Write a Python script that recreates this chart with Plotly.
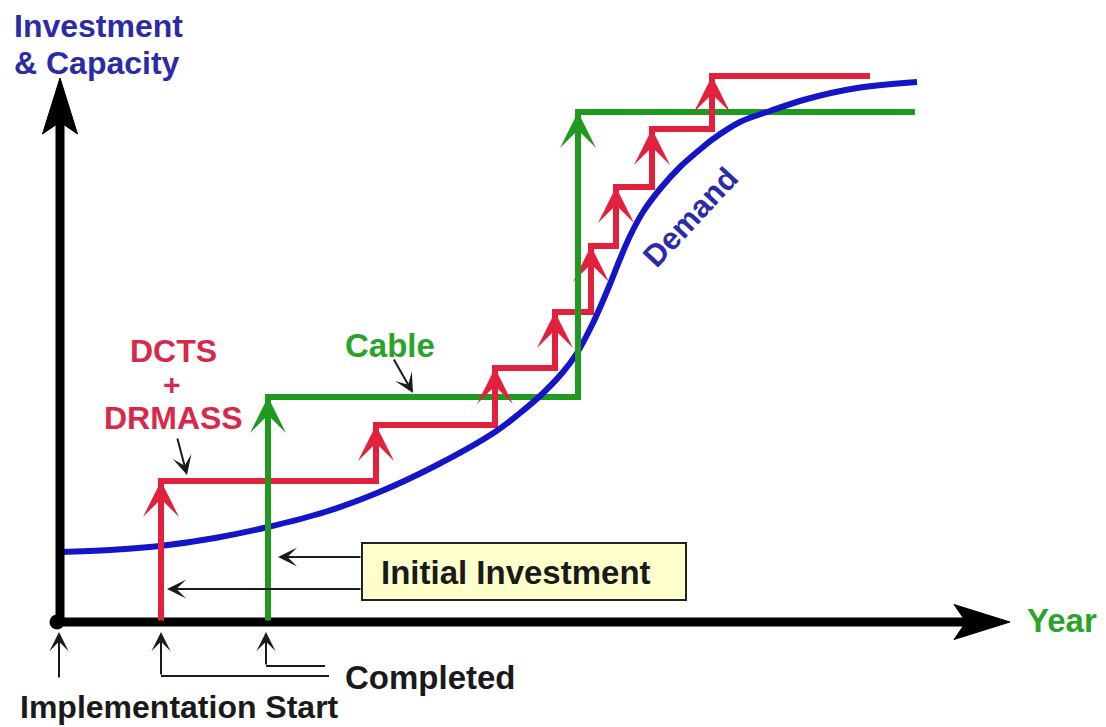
import plotly.graph_objects as go

# ---------------- data (x: time from implementation start, y: investment / capacity) -------------
demand_x = [0, 5, 10, 15.5, 20.8, 26.5, 31.7, 37.5, 43.5, 46, 48, 50.3, 51.7, 53.2, 54.2, 55,
            56, 57, 58.3, 60, 62, 64.3, 65.3, 68, 71, 74.7, 79.7, 85.7]
demand_y = [7.0, 7.2, 7.6, 8.4, 9.5, 11.0, 12.9, 15.6, 19.0, 20.9, 22.6, 25.0, 26.9, 29.7, 31.9, 33.8,
            36.3, 38.6, 41.0, 43.3, 45.5, 47.5, 48.3, 50.0, 51.1, 52.3, 53.4, 54.0]

dcts_step_x = [10.1, 31.6, 43.5, 49.5, 53.1, 55.6, 59.2, 65.2]
dcts_step_y = [14.1, 19.7, 25.4, 31.0, 37.6, 43.5, 49.3, 54.6]
dcts_end_x = 81.0

cable_step_x = [20.8, 51.8]
cable_step_y = [22.5, 51.0]
cable_end_x = 85.5

x_axis_end = 95.0     # tip of the Year arrow
y_axis_end = 54.4     # tip of the Investment arrow
implementation_start = 0.0

# ---------------- styles ----------------
RED = "#E2213F"
RED_TXT = "#D8294B"
GREEN = "#1F9A1F"
GREEN_TXT = "#2AA32A"
BLUE = "#1414C8"
BLUE_TXT = "#2B2BA8"
DARK = "#1a1a1a"
FONT = "Liberation Sans, Arial, sans-serif"

fig = go.Figure()


def step_path(step_x, step_y, end_x):
    xs = [step_x[0]] + list(step_x) + [end_x]
    ys = [0] + list(step_y) + [step_y[-1]]
    return xs, ys


# DCTS + DRMASS steps
rx, ry = step_path(dcts_step_x, dcts_step_y, dcts_end_x)
fig.add_trace(go.Scatter(x=rx, y=ry, mode="lines", line=dict(color=RED, width=6, shape="hv"),
                         hoverinfo="skip"))
# Cable steps
gx, gy = step_path(cable_step_x, cable_step_y, cable_end_x)
fig.add_trace(go.Scatter(x=gx, y=gy, mode="lines", line=dict(color=GREEN, width=6, shape="hv"),
                         hoverinfo="skip"))
# Demand
fig.add_trace(go.Scatter(x=demand_x, y=demand_y, mode="lines",
                         line=dict(color=BLUE, width=6, shape="spline", smoothing=1.0),
                         hoverinfo="skip"))

# Axes (thick black lines + heads)
HEAD_LEN = 5.6
HEAD_HALF = 1.75
NOTCH = 1.2
fig.add_trace(go.Scatter(x=[0, x_axis_end - HEAD_LEN + NOTCH], y=[0, 0], mode="lines",
                         line=dict(color="black", width=9), hoverinfo="skip"))
fig.add_trace(go.Scatter(x=[0, 0], y=[0, y_axis_end - HEAD_LEN + NOTCH], mode="lines",
                         line=dict(color="black", width=9), hoverinfo="skip"))
fig.add_trace(go.Scatter(
    x=[x_axis_end, x_axis_end - HEAD_LEN, x_axis_end - HEAD_LEN + NOTCH, x_axis_end - HEAD_LEN, x_axis_end],
    y=[0, HEAD_HALF, 0, -HEAD_HALF, 0], mode="lines", fill="toself", fillcolor="black",
    line=dict(color="black", width=1), hoverinfo="skip"))
fig.add_trace(go.Scatter(
    x=[0, HEAD_HALF, 0, -HEAD_HALF, 0],
    y=[y_axis_end, y_axis_end - HEAD_LEN, y_axis_end - HEAD_LEN + NOTCH, y_axis_end - HEAD_LEN, y_axis_end],
    mode="lines", fill="toself", fillcolor="black",
    line=dict(color="black", width=1), hoverinfo="skip"))
fig.add_trace(go.Scatter(x=[implementation_start - 0.3], y=[0], mode="markers",
                         marker=dict(color="black", size=15), hoverinfo="skip"))

# bent leader lines for "Completed"
for lx, ly in ([[26.9, dcts_step_x[0]], [-5.4, -5.4]], [[26.5, cable_step_x[0] - 0.2], [-4.4, -4.4]]):
    fig.add_trace(go.Scatter(x=lx, y=ly, mode="lines", line=dict(color=DARK, width=2),
                             hoverinfo="skip"))

annotations = []


def arrow(x, y, ax, ay, color, width, size):
    annotations.append(dict(x=x, y=y, ax=ax, ay=ay, xref="x", yref="y", axref="x", ayref="y",
                            text="", showarrow=True, arrowhead=3, arrowsize=size,
                            arrowwidth=width, arrowcolor=color, standoff=0, startstandoff=0))


prev = 0
for sx, sy in zip(dcts_step_x, dcts_step_y):
    arrow(sx, sy, sx, prev, RED, 6, 1.0)
    prev = sy
prev = 0
for sx, sy in zip(cable_step_x, cable_step_y):
    arrow(sx, sy, sx, prev, GREEN, 6, 1.0)
    prev = sy

# thin black pointers
arrow(35.3, 22.9, 33.3, 26.4, DARK, 2, 1.6)        # Cable
arrow(12.7, 14.7, 11.7, 18.5, DARK, 2, 1.6)        # DRMASS
arrow(21.8, 6.5, 30.2, 6.5, DARK, 2, 1.6)          # Initial investment (cable)
arrow(10.7, 3.3, 30.2, 3.3, DARK, 2, 1.6)          # Initial investment (DCTS)
arrow(implementation_start - 0.1, -1.0, implementation_start - 0.1, -5.7, DARK, 2, 1.6)
arrow(dcts_step_x[0], -1.0, dcts_step_x[0], -5.4, DARK, 2, 1.6)
arrow(cable_step_x[0] - 0.2, -1.0, cable_step_x[0] - 0.2, -4.4, DARK, 2, 1.6)


def label(text, x, y, color, size=33, xanchor="center", angle=0):
    annotations.append(dict(x=x, y=y, xref="x", yref="y", text=text, showarrow=False,
                            xanchor=xanchor, yanchor="middle", textangle=angle,
                            font=dict(family=FONT, size=size, color=color, weight="bold")))


label("Investment", -4.8, 59.6, BLUE_TXT, size=32, xanchor="left")
label("&amp; Capacity", -4.8, 55.9, BLUE_TXT, size=32, xanchor="left")
label("Year", 96.5, 0.2, GREEN_TXT, xanchor="left")
label("Cable", 33.0, 27.7, GREEN_TXT)
label("DCTS", 11.3, 27.1, RED_TXT, size=32)
label("+", 11.2, 23.8, RED_TXT, size=30)
label("DRMASS", 11.3, 20.4, RED_TXT, size=32)
label("Demand", 63.0, 40.5, BLUE_TXT, size=31, angle=-47)
label("Initial Investment", 45.6, 5.0, "#1a1a1a")
label("Completed", 28.3, -5.5, "#1a1a1a", xanchor="left")
label("Implementation Start", -4.2, -8.5, "#1a1a1a", size=32, xanchor="left")

shapes = [dict(type="rect", xref="x", yref="y", x0=30.2, x1=62.6, y0=2.2, y1=7.9,
               fillcolor="#FFFFCC", line=dict(color="#222222", width=2), layer="below")]

fig.update_layout(
    width=1106, height=727, margin=dict(l=0, r=0, t=0, b=0),
    paper_bgcolor="white", plot_bgcolor="white", showlegend=False,
    xaxis=dict(range=[-6, 104.6], visible=False, fixedrange=True),
    yaxis=dict(range=[-10.5, 62.2], visible=False, fixedrange=True),
    annotations=annotations, shapes=shapes,
)

fig.write_html("out.html")
